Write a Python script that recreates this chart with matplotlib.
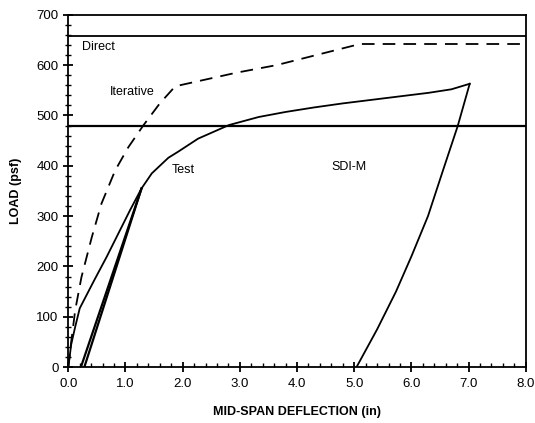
import matplotlib
matplotlib.use("Agg")
import matplotlib.pyplot as plt
from matplotlib.ticker import MultipleLocator, FormatStrFormatter

plt.rcParams['font.family'] = ['Liberation Sans', 'DejaVu Sans']

# load-deflection data
test_x = [0.0, 0.05, 0.12, 0.2, 0.45, 0.67, 1.08, 1.28, 1.46, 1.75, 1.92,
          2.27, 2.45, 2.81, 3.33, 3.8, 4.3, 4.8, 5.3, 5.8, 6.3, 6.7, 7.02]
test_y = [0, 45, 80, 117, 172, 219, 312, 355, 385, 416, 428,
          454, 463, 481, 497, 507, 516, 524, 531, 538, 545, 552, 563]
unload_x = [7.02, 6.81, 6.55, 6.29, 6.0, 5.73, 5.4, 5.04]
unload_y = [563, 479, 390, 300, 220, 150, 75, 0]
reload_x = [0.22, 1.28]
reload_y = [0, 355]
reload2_x = [0.28, 1.28]
reload2_y = [0, 355]
iter_x = [0.0, 0.05, 0.12, 0.23, 0.41, 0.58, 0.82, 1.05, 1.31, 1.60,
          1.87, 2.94, 3.64, 5.1, 8.0]
iter_y = [0, 50, 113, 179, 258, 325, 391, 437, 480, 524,
          558, 585, 600, 642, 642]
direct_load = 657
sdi_load = 479

fig = plt.figure(figsize=(5.35, 4.23), dpi=100)
ax = fig.add_axes([0.1277, 0.132, 0.855, 0.833])

ax.plot(test_x, test_y, color='black', lw=1.3)
ax.plot(unload_x, unload_y, color='black', lw=1.3)
ax.plot(reload_x, reload_y, color='black', lw=1.6)
ax.plot(reload2_x, reload2_y, color='black', lw=1.6)
ax.plot(iter_x, iter_y, color='black', lw=1.3, dashes=(7, 4.5))
ax.axhline(direct_load, color='black', lw=1.3)
ax.axhline(sdi_load, color='black', lw=1.6)

ax.text(0.24, 636, "Direct", fontsize=9, va='center', ha='left')
ax.text(0.73, 546, "Iterative", fontsize=9, va='center', ha='left')
ax.text(4.6, 397, "SDI-M", fontsize=9, va='center', ha='left')
ax.text(1.8, 392, "Test", fontsize=9, va='center', ha='left')

ax.set_xlim(0, 8)
ax.set_ylim(0, 700)
ax.xaxis.set_major_locator(MultipleLocator(1.0))
ax.xaxis.set_minor_locator(MultipleLocator(0.2))
ax.xaxis.set_major_formatter(FormatStrFormatter('%.1f'))
ax.yaxis.set_major_locator(MultipleLocator(100))
ax.yaxis.set_minor_locator(MultipleLocator(20))

ax.tick_params(which='major', direction='inout', length=7, width=1.3,
               labelsize=9.5, top=False, right=False)
ax.tick_params(axis='x', which='minor', direction='in', length=3, width=1.0)
ax.tick_params(axis='y', which='minor', direction='inout', length=4, width=1.0)
ax.tick_params(axis='x', pad=4)
for s in ax.spines.values():
    s.set_linewidth(1.3)

ax.set_xlabel("MID-SPAN DEFLECTION (in)", fontsize=9, fontweight='bold',
              labelpad=12)
ax.set_ylabel("LOAD (psf)", fontsize=9, fontweight='bold', labelpad=10)

fig.savefig("out.png", dpi=100)
